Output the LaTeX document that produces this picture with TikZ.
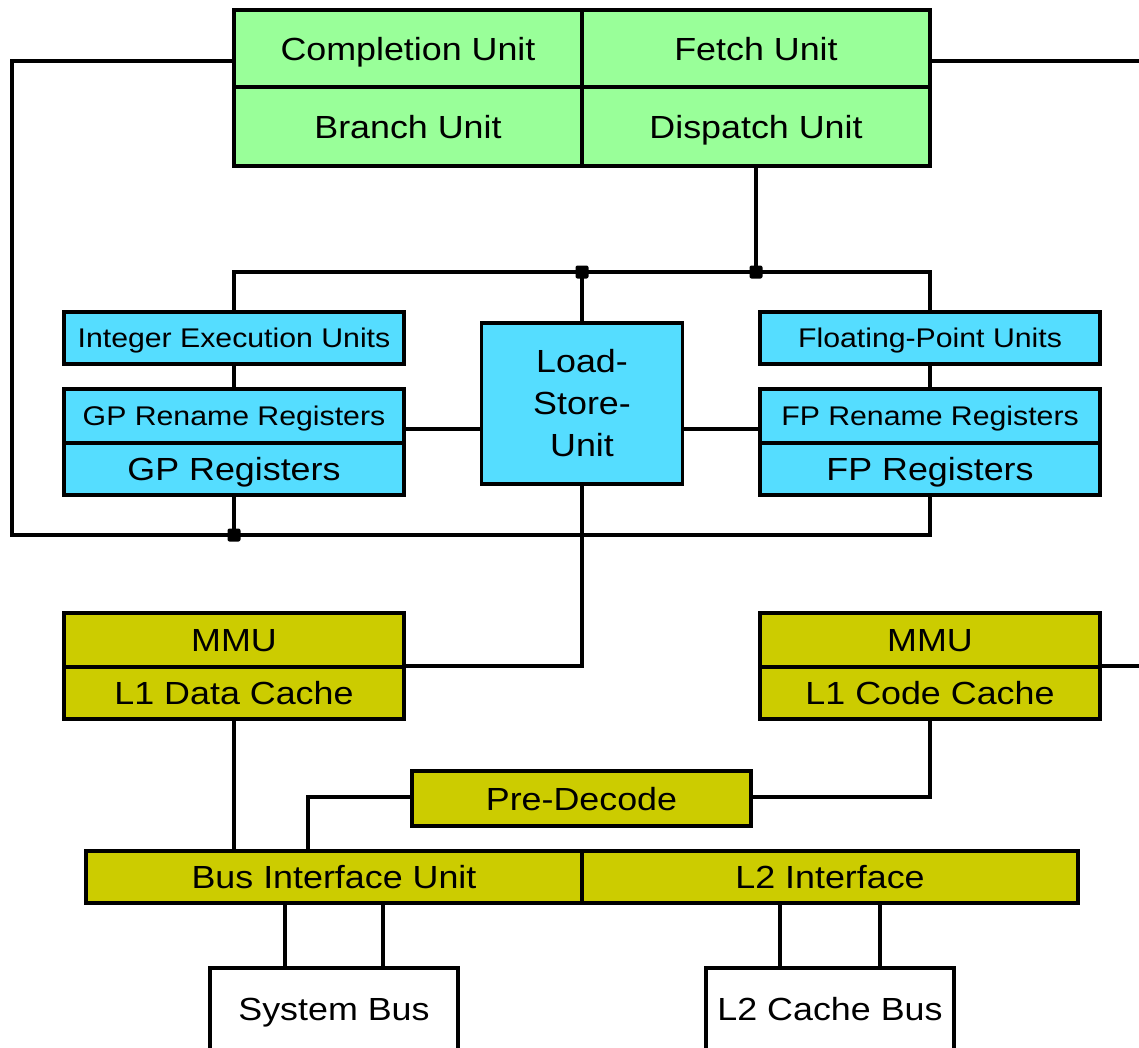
\documentclass[tikz,border=0pt]{standalone}
\usepackage{fontspec}
\setmainfont[FakeStretch=1.12]{Liberation Sans}
\definecolor{cgreen}{HTML}{99FF99}
\definecolor{ccyan}{HTML}{55DDFF}
\definecolor{colive}{HTML}{CCCC00}
\tikzset{
  box/.style={draw=black, line width=3.2pt, rectangle, inner sep=0pt, outer sep=0pt, align=center},
  big/.style={font=\fontsize{32}{42}\selectfont, text height=23pt, text depth=0pt},
  small/.style={font=\fontsize{27}{32}\selectfont, text height=19.5pt, text depth=0pt},
  gbox/.style={box, fill=cgreen, big, minimum width=348pt},
  cbox/.style={box, fill=ccyan, minimum width=340pt},
  obox/.style={box, fill=colive, big},
  wbox/.style={box, fill=white, big, minimum width=248pt, minimum height=82pt},
  conn/.style={draw=black, line width=3.4pt},
  junc/.style={fill=black, rounded corners=2pt, minimum size=13pt, inner sep=0pt, rectangle}
}
\begin{document}
\begin{tikzpicture}[x=1pt,y=-1pt]
\useasboundingbox (0,0) rectangle (1139,1047);
% top block
\node[gbox, minimum height=77pt] (comp) at (408,48.5) {Completion Unit};
\node[gbox, minimum height=77pt] (fetch) at (756,48.5) {Fetch Unit};
\node[gbox, minimum height=79pt] (branch) at (408,126.5) {Branch Unit};
\node[gbox, minimum height=79pt] (dispatch) at (756,126.5) {Dispatch Unit};
% execution
\node[cbox, small, minimum height=52pt] (intex) at (234,338) {Integer Execution Units};
\node[cbox, small, minimum height=54pt] (gpren) at (234,416) {GP Rename Registers};
\node[cbox, big, minimum height=52pt] (gpreg) at (234,469) {GP Registers};
\node[box, fill=ccyan, font=\fontsize{32}{42}\selectfont, minimum width=201pt, minimum height=161pt] (lsu) at (582,403.5) {Load-\\Store-\\Unit};
\node[cbox, small, minimum height=52pt] (fpu) at (930,338) {Floating-Point Units};
\node[cbox, small, minimum height=54pt] (fpren) at (930,416) {FP Rename Registers};
\node[cbox, big, minimum height=52pt] (fpreg) at (930,469) {FP Registers};
% caches
\node[obox, minimum width=340pt, minimum height=54pt] (mmul) at (234,640) {MMU};
\node[obox, minimum width=340pt, minimum height=52pt] (l1d) at (234,693) {L1 Data Cache};
\node[obox, minimum width=340pt, minimum height=54pt] (mmur) at (930,640) {MMU};
\node[obox, minimum width=340pt, minimum height=52pt] (l1c) at (930,693) {L1 Code Cache};
\node[obox, minimum width=339pt, minimum height=55pt] (predec) at (581.5,798.5) {Pre-Decode};
\node[obox, minimum width=496pt, minimum height=52pt] (biu) at (334,877) {Bus Interface Unit};
\node[obox, minimum width=496pt, minimum height=52pt] (l2if) at (830,877) {L2 Interface};
\node[wbox] (sysbus) at (334,1009) {System Bus};
\node[wbox] (l2bus) at (830,1009) {L2 Cache Bus};
% coordinates
\coordinate (ltop) at (12,61);
\coordinate (lbot) at (12,535);
\coordinate (rtop) at (1139,61);
\coordinate (jd) at (756,272);
\coordinate (jl) at (582,272);
\coordinate (busl) at (234,272);
\coordinate (busr) at (930,272);
\coordinate (jg) at (234,535);
\coordinate (fpb) at (930,535);
\coordinate (lsubend) at (582,666);
\coordinate (mmurr) at (1139,666);
\coordinate (pdl) at (308,797);
\coordinate (pdr) at (930,797);
% connectors
\draw[conn] (comp.west |- ltop) -- (ltop) -- (lbot) -- (fpb) -- (fpreg.south);
\draw[conn] (fetch.east |- rtop) -- (rtop);
\draw[conn] (dispatch.south) -- (jd);
\draw[conn] (intex.north) -- (busl) -- (busr) -- (fpu.north);
\draw[conn] (jl) -- (lsu.north);
\draw[conn] (intex.south) -- (gpren.north);
\draw[conn] (fpu.south) -- (fpren.north);
\draw[conn] (gpren.east |- 0,429) -- (lsu.west |- 0,429);
\draw[conn] (lsu.east |- 0,429) -- (fpren.west |- 0,429);
\draw[conn] (gpreg.south) -- (jg);
\draw[conn] (lsu.south) -- (lsubend) -- (mmul.east |- lsubend);
\draw[conn] (mmur.east |- mmurr) -- (mmurr);
\draw[conn] (l1d.south) -- (biu.north -| l1d.south);
\draw[conn] (predec.west |- pdl) -- (pdl) -- (biu.north -| pdl);
\draw[conn] (l1c.south) -- (pdr) -- (predec.east |- pdr);
\draw[conn] (biu.south -| 285,0) -- (sysbus.north -| 285,0);
\draw[conn] (biu.south -| 383,0) -- (sysbus.north -| 383,0);
\draw[conn] (l2if.south -| 780,0) -- (l2bus.north -| 780,0);
\draw[conn] (l2if.south -| 880,0) -- (l2bus.north -| 880,0);
% junctions
\node[junc] (dj1) at (jl) {};
\node[junc] (dj2) at (jd) {};
\node[junc] (dj3) at (jg) {};
\end{tikzpicture}
\end{document}
